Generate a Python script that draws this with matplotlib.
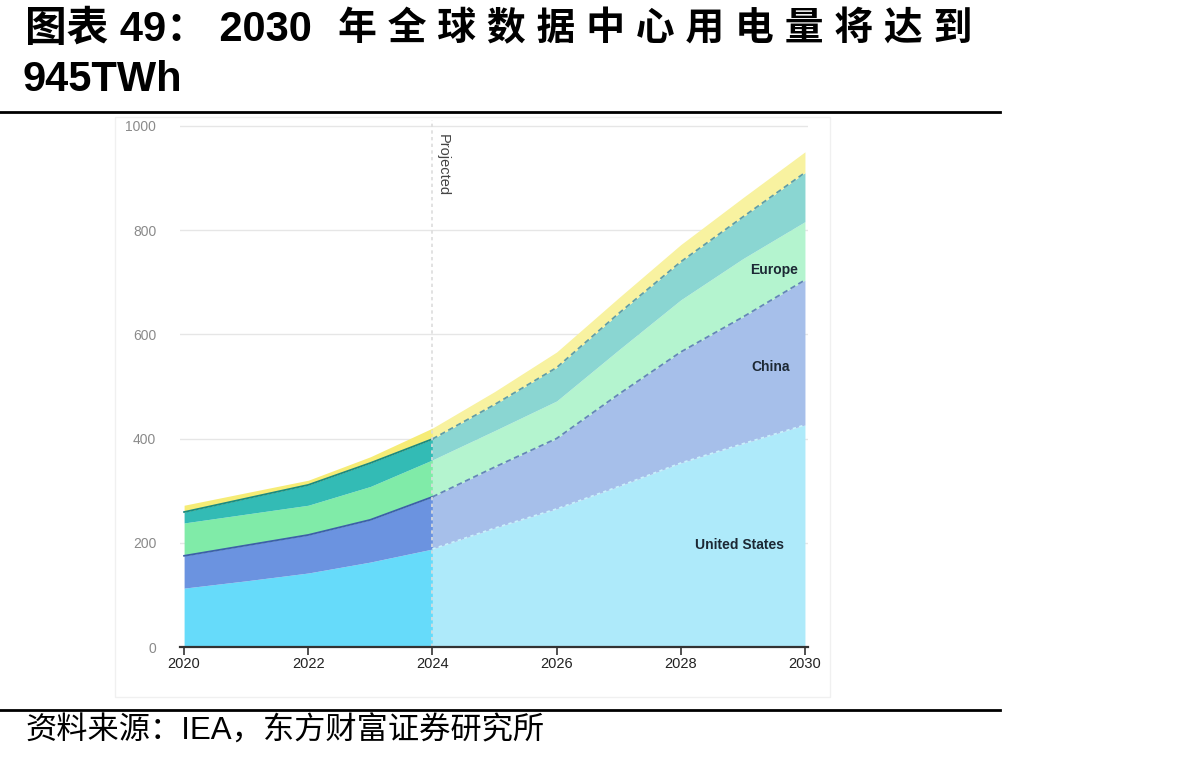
import matplotlib
matplotlib.use("Agg")
import matplotlib.pyplot as plt
import numpy as np
from matplotlib.patches import Rectangle

# data (TWh)
years = [2020, 2021, 2022, 2023, 2024, 2025, 2026, 2027, 2028, 2029, 2030]
us = [113, 127, 142, 163, 188, 228, 265, 308, 353, 390, 426]
china = [62, 68, 73, 81, 100, 117, 135, 177, 213, 243, 278]
europe = [63, 60, 57, 64, 71, 70, 72, 85, 100, 112, 112]
asia = [21, 30, 39, 45, 40, 50, 64, 70, 73, 80, 94]
other = [13, 11, 9, 12, 21, 25, 30, 30, 33, 37, 40]

region_labels = ["United States", "China", "Europe"]
label_pos = [(2028.95, 196), (2029.45, 537), (2029.5, 724)]

hist_colors = ["#66dbfa", "#6b93e0", "#80eba8", "#33bbb5", "#f6ec76"]
proj_colors = ["#aeeafa", "#a6bfea", "#b4f4cf", "#8ad6d2", "#f8f2a0"]

fig = plt.figure(figsize=(11.92, 7.63), dpi=100)

# title and source
fam = ["Liberation Sans", "Noto Sans CJK SC"]
fig.text(25 / 1192, 1 - 30 / 763, "图表 49： 2030",
         family=fam, fontsize=30, fontweight="bold", va="center", ha="left")
fig.text(338 / 1192, 1 - 30 / 763, "年 全 球 数 据 中 心 用 电 量 将 达 到",
         family=fam, fontsize=28, fontweight="bold", va="center", ha="left")
fig.text(22 / 1192, 1 - 80 / 763, "945TWh",
         family=fam, fontsize=30, fontweight="bold", va="center", ha="left")
fig.text(25 / 1192, 1 - 732 / 763, "资料来源：IEA，东方财富证券研究所",
         family=fam, fontsize=22.5, va="center", ha="left")
fig.add_artist(plt.Line2D([0, 1000 / 1192], [1 - 112 / 763] * 2, color="black", lw=2))
fig.add_artist(plt.Line2D([0, 1000 / 1192], [1 - 710 / 763] * 2, color="black", lw=2))
fig.add_artist(Rectangle((115 / 1192, 1 - 697 / 763), 715 / 1192, 580 / 763,
                         fill=False, edgecolor="#f0f0f0", lw=1))

ax = fig.add_axes([0.1508, 0.1520, 0.5271, 0.6907])

x = np.array(years)
stack = np.cumsum(np.array([us, china, europe, asia, other]), axis=0)
h = x <= 2024
p = x >= 2024
for i in range(5):
    low = stack[i - 1] if i > 0 else np.zeros(len(x))
    ax.fill_between(x[h], low[h], stack[i][h], color=hist_colors[i], lw=0, zorder=2)
    ax.fill_between(x[p], low[p], stack[i][p], color=proj_colors[i], lw=0, zorder=2)

# boundary lines
ax.plot(x[h], stack[1][h], color="#3d5fa8", lw=1.3, zorder=3)
ax.plot(x[p], stack[1][p], color="#6585b8", lw=1.3, ls=(0, (3, 2)), zorder=3)
ax.plot(x[h], stack[3][h], color="#1b8a80", lw=1.3, zorder=3)
ax.plot(x[p], stack[3][p], color="#5e9eaa", lw=1.3, ls=(0, (3, 2)), zorder=3)
ax.plot(x[p], stack[0][p], color="#c8f2fc", lw=1.2, ls=(0, (2, 2)), zorder=3)

ax.axvline(2024, color="#dddddd", lw=1.2, ls=(0, (2, 2)), zorder=4)
ax.text(2024.06, 985, "Projected", rotation=-90, fontsize=10.5, color="#444444",
        va="top", ha="left", family="Liberation Sans")

for lab, (lx, ly) in zip(region_labels, label_pos):
    ax.text(lx, ly, lab, fontsize=10, fontweight="bold", color="#1c2834",
            ha="center", va="center", family="Liberation Sans", zorder=5)

ax.set_xlim(2019.93, 2030.05)
ax.set_ylim(0, 1011)
ax.set_yticks([0, 200, 400, 600, 800, 1000])
ax.set_xticks([2020, 2022, 2024, 2026, 2028, 2030])
ax.grid(axis="y", color="#e6e6e6", lw=1, zorder=0)
ax.set_axisbelow(True)
for s in ["top", "right", "left"]:
    ax.spines[s].set_visible(False)
ax.spines["bottom"].set_color("#333333")
ax.spines["bottom"].set_linewidth(1.6)
ax.spines["bottom"].set_zorder(6)
ax.tick_params(axis="y", length=0, pad=17, labelsize=10, labelcolor="#8a8a8a")
ax.tick_params(axis="x", length=6, width=1.2, color="#333333", labelsize=10.5,
               labelcolor="#222222", pad=1)
for t in ax.get_xticklabels() + ax.get_yticklabels():
    t.set_family("Liberation Sans")

fig.savefig("out.png", dpi=100)
